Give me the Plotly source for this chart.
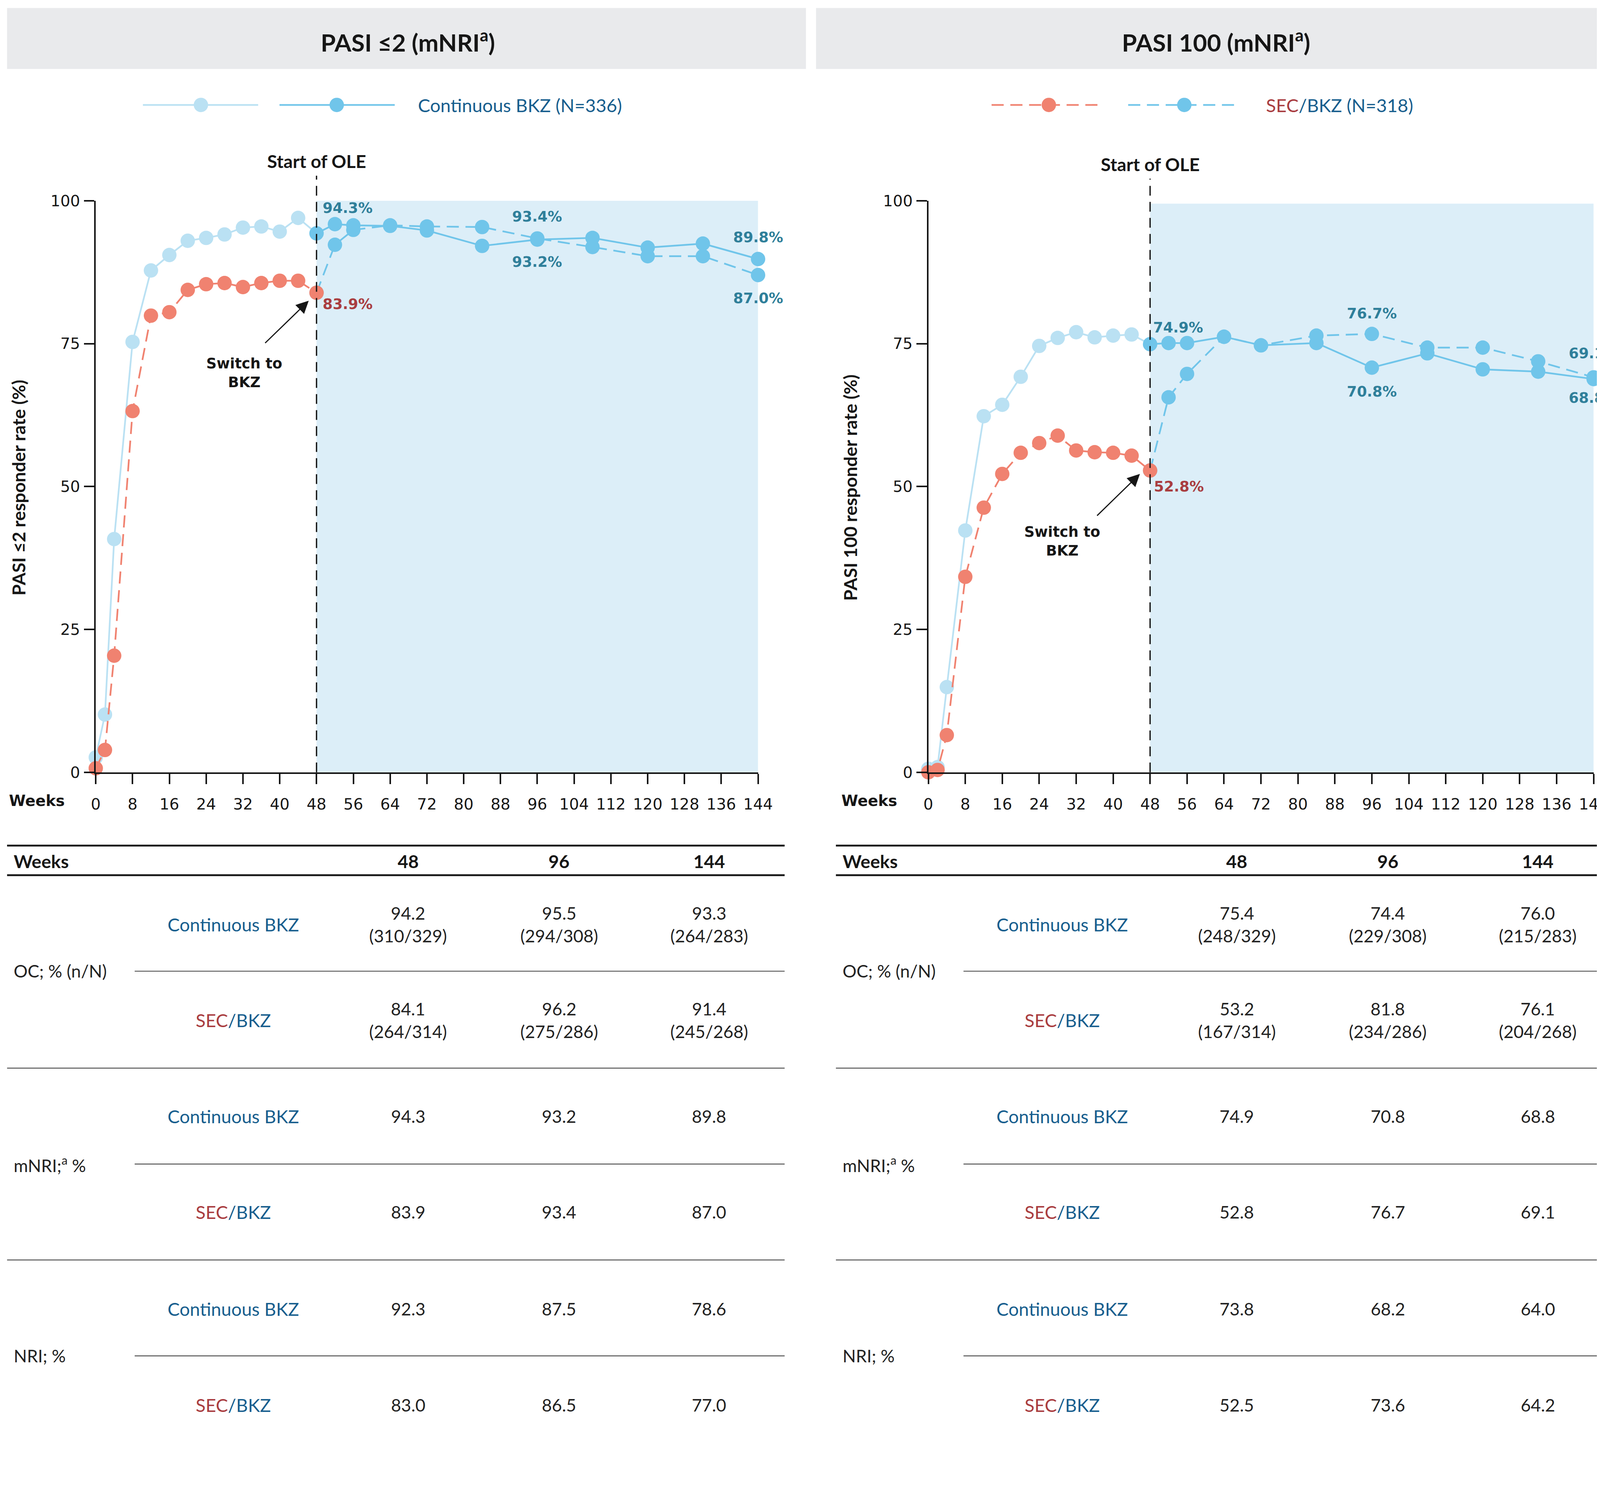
import plotly.graph_objects as go

# Reference canvas and a small correction for how the page is photographed
W_REF, H_REF = 4275, 3865
S = 1.031          # observed magnification of the rendered page
OX, OY = 22, 33    # observed offset of the rendered page (px)
FW = round((W_REF - OX) / S)
FH = round((H_REF - OY) / S)

# ---------------- data ----------------
weeks_pre = [0, 2, 4, 8, 12, 16, 20, 24, 28, 32, 36, 40, 44, 48]
weeks_post = [48, 52, 56, 64, 72, 84, 96, 108, 120, 132, 144]
x_ticks = list(range(0, 145, 8))
y_ticks = [0, 25, 50, 75, 100]

# PASI <=2 (mNRI)
pasi2_cont_pre = [2.6, 10.1, 40.8, 75.3, 87.8, 90.5, 93.0, 93.5, 94.1, 95.3, 95.5, 94.6, 97.0, 94.3]
pasi2_cont_post = [94.3, 95.9, 95.7, 95.6, 94.8, 92.1, 93.2, 93.5, 91.8, 92.5, 89.8]
pasi2_sec_pre = [0.7, 3.9, 20.4, 63.2, 79.9, 80.5, 84.4, 85.4, 85.6, 84.9, 85.6, 86.0, 86.0, 83.9]
pasi2_sec_post = [83.9, 92.3, 94.9, 95.7, 95.5, 95.4, 93.4, 91.9, 90.3, 90.3, 87.0]

# PASI 100 (mNRI)
pasi100_cont_pre = [0.6, 0.9, 14.9, 42.3, 62.3, 64.3, 69.2, 74.6, 76.0, 77.0, 76.1, 76.4, 76.6, 74.9]
pasi100_cont_post = [74.9, 75.1, 75.1, 76.2, 74.7, 75.1, 70.8, 73.3, 70.5, 70.1, 68.8]
pasi100_sec_pre = [0.0, 0.4, 6.5, 34.2, 46.3, 52.2, 55.9, 57.6, 58.9, 56.3, 56.0, 55.9, 55.4, 52.8]
pasi100_sec_post = [52.8, 65.6, 69.7, 76.2, 74.7, 76.4, 76.7, 74.3, 74.3, 71.9, 69.1]

# Table
tbl_weeks = ["48", "96", "144"]
tbl_methods = ["OC; % (n/N)", "mNRI;<sup>a</sup> %", "NRI; %"]
pasi2_oc_cont = ["94.2", "95.5", "93.3"]
pasi2_oc_cont_n = ["(310/329)", "(294/308)", "(264/283)"]
pasi2_oc_sec = ["84.1", "96.2", "91.4"]
pasi2_oc_sec_n = ["(264/314)", "(275/286)", "(245/268)"]
pasi2_mnri_cont = ["94.3", "93.2", "89.8"]
pasi2_mnri_sec = ["83.9", "93.4", "87.0"]
pasi2_nri_cont = ["92.3", "87.5", "78.6"]
pasi2_nri_sec = ["83.0", "86.5", "77.0"]

pasi100_oc_cont = ["75.4", "74.4", "76.0"]
pasi100_oc_cont_n = ["(248/329)", "(229/308)", "(215/283)"]
pasi100_oc_sec = ["53.2", "81.8", "76.1"]
pasi100_oc_sec_n = ["(167/314)", "(234/286)", "(204/268)"]
pasi100_mnri_cont = ["74.9", "70.8", "68.8"]
pasi100_mnri_sec = ["52.8", "76.7", "69.1"]
pasi100_nri_cont = ["73.8", "68.2", "64.0"]
pasi100_nri_sec = ["52.5", "73.6", "64.2"]

# ---------------- style ----------------
LIGHT = "#BAE1F3"
DARK = "#70C5EA"
RED = "#F08270"
SHADE = "#DCEEF8"
TEAL = "#2F7F9A"
DRED = "#A93D40"
TBLUE = "#175E8E"
HEADER = "#E9EAEC"
INK = "#161616"

BODY = "Lato"
WIDE = "DejaVu Sans"


def sz(v):
    return v / S


MS = sz(38)
LW = sz(4.5)
DASH = "%dpx,%dpx" % (round(sz(32)), round(sz(18)))


def px(r):
    return (r - OX) / (W_REF - OX)


def py(r):
    return 1 - (r - OY) / (H_REF - OY)


def lx(r):  # pixel coordinate on the overlay axis
    return (r - OX) / S


def ly(r):
    return (r - OY) / S


fig = go.Figure()

panels = [
    dict(xa="x", ya="y", cont_pre=pasi2_cont_pre, cont_post=pasi2_cont_post,
         sec_pre=pasi2_sec_pre, sec_post=pasi2_sec_post),
    dict(xa="x2", ya="y2", cont_pre=pasi100_cont_pre, cont_post=pasi100_cont_post,
         sec_pre=pasi100_sec_pre, sec_post=pasi100_sec_post),
]

for p in panels:
    common = dict(xaxis=p["xa"], yaxis=p["ya"], mode="lines+markers",
                  cliponaxis=False, showlegend=False, hoverinfo="skip")
    fig.add_trace(go.Scatter(x=weeks_pre, y=p["cont_pre"],
                             line=dict(color=LIGHT, width=LW),
                             marker=dict(color=LIGHT, size=MS), **common))
    fig.add_trace(go.Scatter(x=weeks_post, y=p["sec_post"],
                             line=dict(color=DARK, width=LW, dash=DASH),
                             marker=dict(color=DARK, size=MS), **common))
    fig.add_trace(go.Scatter(x=weeks_post, y=p["cont_post"],
                             line=dict(color=DARK, width=LW),
                             marker=dict(color=DARK, size=MS), **common))
    fig.add_trace(go.Scatter(x=weeks_pre, y=p["sec_pre"],
                             line=dict(color=RED, width=LW, dash=DASH),
                             marker=dict(color=RED, size=MS), **common))

# legend samples on an overlay pixel axis
leg_y = 281
leg_items = [
    ([382, 690], 537, LIGHT, "solid"),
    ([747, 1055], 900, DARK, "solid"),
    ([2650, 2947], 2803, RED, DASH),
    ([3015, 3315], 3165, DARK, DASH),
]
for xs, xm, col, dsh in leg_items:
    fig.add_trace(go.Scatter(x=[lx(v) for v in xs], y=[ly(leg_y), ly(leg_y)], xaxis="x3", yaxis="y3",
                             mode="lines", line=dict(color=col, width=LW, dash=dsh),
                             showlegend=False, hoverinfo="skip", cliponaxis=False))
    fig.add_trace(go.Scatter(x=[lx(xm)], y=[ly(leg_y)], xaxis="x3", yaxis="y3",
                             mode="markers", marker=dict(color=col, size=MS),
                             showlegend=False, hoverinfo="skip", cliponaxis=False))

axis_common = dict(
    showgrid=False, zeroline=False, showline=True, linecolor=INK, linewidth=sz(4),
    ticks="outside", ticklen=sz(27), tickwidth=sz(4), tickcolor=INK,
    tickfont=dict(family=WIDE, size=sz(41), color=INK),
)
y_dom = [py(2064), py(537)]
fig.update_layout(
    width=FW, height=FH,
    margin=dict(l=0, r=0, t=0, b=0),
    paper_bgcolor="white", plot_bgcolor="rgba(0,0,0,0)",
    xaxis=dict(domain=[px(256), px(2026)], anchor="y", range=[0, 144],
               tickvals=x_ticks, ticklabelstandoff=17, **axis_common),
    yaxis=dict(domain=y_dom, anchor="x", range=[0, 100], tickvals=y_ticks,
               ticklabelstandoff=2, **axis_common),
    xaxis2=dict(domain=[px(2481), min(1.0, px(4259))], anchor="y2", range=[0, 144],
                tickvals=x_ticks, ticklabelstandoff=17, **axis_common),
    yaxis2=dict(domain=y_dom, anchor="x2", range=[0, 100], tickvals=y_ticks,
                ticklabelstandoff=2, **axis_common),
    xaxis3=dict(domain=[0, 1], anchor="y3", range=[0, FW], visible=False, fixedrange=True),
    yaxis3=dict(domain=[0, 1], anchor="x3", range=[FH, 0], visible=False, fixedrange=True),
)

shapes = []
ann = []

# header boxes and titles
shapes.append(dict(type="rect", xref="paper", yref="paper", x0=px(19), x1=px(2154),
                   y0=py(185), y1=py(22), fillcolor=HEADER, line=dict(width=0), layer="below"))
shapes.append(dict(type="rect", xref="paper", yref="paper", x0=px(2181), x1=1,
                   y0=py(185), y1=py(22), fillcolor=HEADER, line=dict(width=0), layer="below"))
for xc, t in [(1090, "PASI \u22642 (mNRI<sup>a</sup>)"), (3250, "PASI 100 (mNRI<sup>a</sup>)")]:
    ann.append(dict(xref="paper", yref="paper", x=px(xc), y=py(109), text="<b>" + t + "</b>",
                    showarrow=False, font=dict(family=BODY, size=sz(64), color=INK),
                    xanchor="center", yanchor="middle"))

# legend texts
ann.append(dict(xref="paper", yref="paper", x=px(1115), y=py(leg_y), xanchor="left", yanchor="middle",
                text="Continuous BKZ (N=336)", showarrow=False,
                font=dict(family=BODY, size=sz(48.5), color=TBLUE)))
ann.append(dict(xref="paper", yref="paper", x=px(3381), y=py(leg_y), xanchor="left", yanchor="middle",
                text="<span style='color:%s'>SEC</span>/BKZ (N=318)" % DRED, showarrow=False,
                font=dict(family=BODY, size=sz(48.5), color=TBLUE)))

panel_geo = [
    dict(xa="x", ya="y", ytitle_x=49, weeks_x=22, title="PASI \u22642 responder rate (%)",
         ole_y=431, line_top=470, shade_top=100,
         head=(46.3, 82.5), tail=(36.7, 75.0), sw=(32.3, 69.9),
         labels=[("94.3%", 54.8, 98.7, TEAL), ("83.9%", 54.8, 81.9, DRED),
                 ("93.4%", 96, 97.2, TEAL), ("93.2%", 96, 89.3, TEAL),
                 ("89.8%", 144, 93.6, TEAL), ("87.0%", 144, 82.9, TEAL)]),
    dict(xa="x2", ya="y2", ytitle_x=2271, weeks_x=2247, title="PASI 100 responder rate (%)",
         ole_y=439, line_top=478, shade_top=99.5,
         head=(45.8, 52.2), tail=(36.4, 44.8), sw=(29.0, 40.4),
         labels=[("74.9%", 54.1, 77.8, TEAL), ("52.8%", 54.2, 50.0, DRED),
                 ("76.7%", 96, 80.3, TEAL), ("70.8%", 96, 66.6, TEAL),
                 ("69.1%", 144, 73.3, TEAL), ("68.8%", 144, 65.5, TEAL)]),
]

for g in panel_geo:
    xa, ya = g["xa"], g["ya"]
    shapes.append(dict(type="rect", xref=xa, yref=ya, x0=48, x1=144, y0=0, y1=g["shade_top"],
                       fillcolor=SHADE, line=dict(width=0), layer="below"))
    shapes.append(dict(type="line", xref=xa, yref="paper", x0=48, x1=48,
                       y0=py(2064), y1=py(g["line_top"]),
                       line=dict(color=INK, width=sz(3.5),
                                 dash="%dpx,%dpx" % (round(sz(26)), round(sz(16))))))
    ann.append(dict(xref=xa, yref="paper", x=48, y=py(g["ole_y"]), text="<b>Start of OLE</b>",
                    showarrow=False, font=dict(family=BODY, size=sz(48), color=INK),
                    xanchor="center", yanchor="middle"))
    ann.append(dict(xref="paper", yref="paper", x=px(g["ytitle_x"]), y=py(1303),
                    text="<b>" + g["title"] + "</b>", textangle=-90, showarrow=False,
                    font=dict(family=BODY, size=sz(48), color=INK), xanchor="center", yanchor="middle"))
    ann.append(dict(xref="paper", yref="paper", x=px(g["weeks_x"]), y=py(2140),
                    text="<b>Weeks</b>", showarrow=False,
                    font=dict(family=WIDE, size=sz(40), color=INK), xanchor="left", yanchor="middle"))
    # arrow
    ann.append(dict(xref=xa, yref=ya, x=g["head"][0], y=g["head"][1],
                    axref=xa, ayref=ya, ax=g["tail"][0], ay=g["tail"][1],
                    text="", showarrow=True, arrowhead=2, arrowsize=2.2, arrowwidth=sz(3),
                    arrowcolor=INK))
    ann.append(dict(xref=xa, yref=ya, x=g["sw"][0], y=g["sw"][1], text="<b>Switch to<br>BKZ</b>",
                    showarrow=False, font=dict(family=WIDE, size=sz(38), color=INK),
                    xanchor="center", yanchor="middle"))
    for t, lxx, lyy, c in g["labels"]:
        ann.append(dict(xref=xa, yref=ya, x=lxx, y=lyy, text="<b>" + t + "</b>",
                        showarrow=False, font=dict(family=WIDE, size=sz(38), color=c),
                        xanchor="center", yanchor="middle"))

# ---------------- tables ----------------
CONT_LBL = "Continuous BKZ"
SEC_LBL = "<span style='color:%s'>SEC</span>/BKZ" % DRED
tables = [
    (0, 2097, [pasi2_oc_cont, pasi2_oc_sec, pasi2_mnri_cont, pasi2_mnri_sec, pasi2_nri_cont, pasi2_nri_sec],
     [pasi2_oc_cont_n, pasi2_oc_sec_n]),
    (2215, W_REF, [pasi100_oc_cont, pasi100_oc_sec, pasi100_mnri_cont, pasi100_mnri_sec,
                   pasi100_nri_cont, pasi100_nri_sec],
     [pasi100_oc_cont_n, pasi100_oc_sec_n]),
]
row_y = [2470, 2726, 2983, 3239, 3498, 3754]
grp_y = [2595, 3111, 3623]
col_x = [1090.6, 1494, 1895]
TF = sz(48)
TF2 = sz(46)

for off, redge, rows, nrows in tables:
    for yy in [2260, 2339]:
        shapes.append(dict(type="line", xref="paper", yref="paper", x0=px(19 + off), x1=min(1.0, px(redge)),
                           y0=py(yy), y1=py(yy), line=dict(color=INK, width=sz(5))))
    for yy in [2854.5, 3367]:
        shapes.append(dict(type="line", xref="paper", yref="paper", x0=px(19 + off), x1=min(1.0, px(redge)),
                           y0=py(yy), y1=py(yy), line=dict(color="#555555", width=sz(2.5))))
    for yy in [2595.5, 3110.8, 3623.4]:
        shapes.append(dict(type="line", xref="paper", yref="paper", x0=px(360 + off), x1=min(1.0, px(redge)),
                           y0=py(yy), y1=py(yy), line=dict(color="#555555", width=sz(2.5))))
    ann.append(dict(xref="paper", yref="paper", x=px(35 + off), y=py(2301), text="<b>Weeks</b>",
                    showarrow=False, xanchor="left", yanchor="middle",
                    font=dict(family=BODY, size=TF, color=INK)))
    for cx, wk in zip(col_x, tbl_weeks):
        ann.append(dict(xref="paper", yref="paper", x=px(cx + off), y=py(2301), text="<b>" + wk + "</b>",
                        showarrow=False, xanchor="center", yanchor="middle",
                        font=dict(family=BODY, size=TF, color=INK)))
    for gy, m in zip(grp_y, tbl_methods):
        ann.append(dict(xref="paper", yref="paper", x=px(35 + off), y=py(gy), text=m,
                        showarrow=False, xanchor="left", yanchor="middle",
                        font=dict(family=BODY, size=TF2, color="#222222")))
    for i, (ry, vals) in enumerate(zip(row_y, rows)):
        lbl = CONT_LBL if i % 2 == 0 else SEC_LBL
        ann.append(dict(xref="paper", yref="paper", x=px(624 + off), y=py(ry), text=lbl,
                        showarrow=False, xanchor="center", yanchor="middle",
                        font=dict(family=BODY, size=TF, color=TBLUE)))
        for j, (cx, v) in enumerate(zip(col_x, vals)):
            txt = v
            if i < 2:
                txt = v + "<br>" + nrows[i][j]
            ann.append(dict(xref="paper", yref="paper", x=px(cx + off), y=py(ry), text=txt,
                            showarrow=False, xanchor="center", yanchor="middle",
                            font=dict(family=BODY, size=TF2, color="#222222")))

fig.update_layout(shapes=shapes, annotations=ann)
fig.write_html("out.html")
